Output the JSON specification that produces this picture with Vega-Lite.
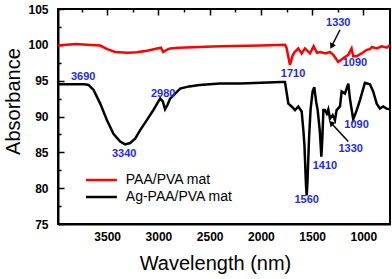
{
  "$schema": "https://vega.github.io/schema/vega-lite/v6.json",
  "width": 332,
  "height": 215,
  "autosize": {"type": "none"},
  "padding": {"left": 58, "top": 9, "right": 2, "bottom": 55},
  "config": {
    "font": "Liberation Sans",
    "view": {"stroke": "black", "strokeWidth": 2}
  },
  "datasets": {
    "spectra": [
      {"wn": 3980, "abs": 99.9, "series": "PAA/PVA mat"},
      {"wn": 3900, "abs": 100.0, "series": "PAA/PVA mat"},
      {"wn": 3800, "abs": 100.1, "series": "PAA/PVA mat"},
      {"wn": 3700, "abs": 100.0, "series": "PAA/PVA mat"},
      {"wn": 3568, "abs": 99.9, "series": "PAA/PVA mat"},
      {"wn": 3500, "abs": 99.4, "series": "PAA/PVA mat"},
      {"wn": 3422, "abs": 99.0, "series": "PAA/PVA mat"},
      {"wn": 3300, "abs": 98.9, "series": "PAA/PVA mat"},
      {"wn": 3208, "abs": 98.95, "series": "PAA/PVA mat"},
      {"wn": 3100, "abs": 99.2, "series": "PAA/PVA mat"},
      {"wn": 3012, "abs": 99.5, "series": "PAA/PVA mat"},
      {"wn": 2975, "abs": 99.6, "series": "PAA/PVA mat"},
      {"wn": 2954, "abs": 99.0, "series": "PAA/PVA mat"},
      {"wn": 2920, "abs": 99.3, "series": "PAA/PVA mat"},
      {"wn": 2886, "abs": 99.5, "series": "PAA/PVA mat"},
      {"wn": 2800, "abs": 99.6, "series": "PAA/PVA mat"},
      {"wn": 2600, "abs": 99.7, "series": "PAA/PVA mat"},
      {"wn": 2400, "abs": 99.8, "series": "PAA/PVA mat"},
      {"wn": 2000, "abs": 99.9, "series": "PAA/PVA mat"},
      {"wn": 1765, "abs": 100.0, "series": "PAA/PVA mat"},
      {"wn": 1750, "abs": 99.6, "series": "PAA/PVA mat"},
      {"wn": 1716, "abs": 97.2, "series": "PAA/PVA mat"},
      {"wn": 1690, "abs": 98.5, "series": "PAA/PVA mat"},
      {"wn": 1670, "abs": 99.0, "series": "PAA/PVA mat"},
      {"wn": 1635, "abs": 99.5, "series": "PAA/PVA mat"},
      {"wn": 1602, "abs": 98.8, "series": "PAA/PVA mat"},
      {"wn": 1570, "abs": 99.5, "series": "PAA/PVA mat"},
      {"wn": 1520, "abs": 98.8, "series": "PAA/PVA mat"},
      {"wn": 1485, "abs": 99.8, "series": "PAA/PVA mat"},
      {"wn": 1453, "abs": 98.9, "series": "PAA/PVA mat"},
      {"wn": 1420, "abs": 99.0, "series": "PAA/PVA mat"},
      {"wn": 1370, "abs": 98.8, "series": "PAA/PVA mat"},
      {"wn": 1326, "abs": 99.0, "series": "PAA/PVA mat"},
      {"wn": 1293, "abs": 98.6, "series": "PAA/PVA mat"},
      {"wn": 1245, "abs": 97.6, "series": "PAA/PVA mat"},
      {"wn": 1180, "abs": 98.3, "series": "PAA/PVA mat"},
      {"wn": 1147, "abs": 98.6, "series": "PAA/PVA mat"},
      {"wn": 1115, "abs": 99.5, "series": "PAA/PVA mat"},
      {"wn": 1099, "abs": 98.4, "series": "PAA/PVA mat"},
      {"wn": 1066, "abs": 98.4, "series": "PAA/PVA mat"},
      {"wn": 1017, "abs": 98.8, "series": "PAA/PVA mat"},
      {"wn": 968, "abs": 99.3, "series": "PAA/PVA mat"},
      {"wn": 936, "abs": 99.4, "series": "PAA/PVA mat"},
      {"wn": 916, "abs": 99.7, "series": "PAA/PVA mat"},
      {"wn": 870, "abs": 99.5, "series": "PAA/PVA mat"},
      {"wn": 820, "abs": 99.8, "series": "PAA/PVA mat"},
      {"wn": 770, "abs": 99.6, "series": "PAA/PVA mat"},
      {"wn": 740, "abs": 100.0, "series": "PAA/PVA mat"},
      {"wn": 3980, "abs": 94.5, "series": "Ag-PAA/PVA mat"},
      {"wn": 3850, "abs": 94.5, "series": "Ag-PAA/PVA mat"},
      {"wn": 3720, "abs": 94.5, "series": "Ag-PAA/PVA mat"},
      {"wn": 3682, "abs": 94.4, "series": "Ag-PAA/PVA mat"},
      {"wn": 3633, "abs": 93.7, "series": "Ag-PAA/PVA mat"},
      {"wn": 3568, "abs": 91.8, "series": "Ag-PAA/PVA mat"},
      {"wn": 3503, "abs": 89.5, "series": "Ag-PAA/PVA mat"},
      {"wn": 3439, "abs": 87.6, "series": "Ag-PAA/PVA mat"},
      {"wn": 3373, "abs": 86.5, "series": "Ag-PAA/PVA mat"},
      {"wn": 3325, "abs": 86.1, "series": "Ag-PAA/PVA mat"},
      {"wn": 3276, "abs": 86.3, "series": "Ag-PAA/PVA mat"},
      {"wn": 3227, "abs": 86.9, "series": "Ag-PAA/PVA mat"},
      {"wn": 3178, "abs": 88.1, "series": "Ag-PAA/PVA mat"},
      {"wn": 3113, "abs": 89.5, "series": "Ag-PAA/PVA mat"},
      {"wn": 3049, "abs": 90.9, "series": "Ag-PAA/PVA mat"},
      {"wn": 3000, "abs": 92.1, "series": "Ag-PAA/PVA mat"},
      {"wn": 2983, "abs": 92.5, "series": "Ag-PAA/PVA mat"},
      {"wn": 2957, "abs": 92.1, "series": "Ag-PAA/PVA mat"},
      {"wn": 2935, "abs": 91.0, "series": "Ag-PAA/PVA mat"},
      {"wn": 2912, "abs": 91.6, "series": "Ag-PAA/PVA mat"},
      {"wn": 2886, "abs": 92.5, "series": "Ag-PAA/PVA mat"},
      {"wn": 2837, "abs": 93.2, "series": "Ag-PAA/PVA mat"},
      {"wn": 2788, "abs": 93.9, "series": "Ag-PAA/PVA mat"},
      {"wn": 2700, "abs": 94.2, "series": "Ag-PAA/PVA mat"},
      {"wn": 2600, "abs": 94.4, "series": "Ag-PAA/PVA mat"},
      {"wn": 2400, "abs": 94.6, "series": "Ag-PAA/PVA mat"},
      {"wn": 2200, "abs": 94.6, "series": "Ag-PAA/PVA mat"},
      {"wn": 2000, "abs": 94.7, "series": "Ag-PAA/PVA mat"},
      {"wn": 1800, "abs": 94.8, "series": "Ag-PAA/PVA mat"},
      {"wn": 1765, "abs": 94.8, "series": "Ag-PAA/PVA mat"},
      {"wn": 1745, "abs": 93.0, "series": "Ag-PAA/PVA mat"},
      {"wn": 1732, "abs": 91.8, "series": "Ag-PAA/PVA mat"},
      {"wn": 1700, "abs": 91.4, "series": "Ag-PAA/PVA mat"},
      {"wn": 1667, "abs": 90.9, "series": "Ag-PAA/PVA mat"},
      {"wn": 1635, "abs": 91.4, "series": "Ag-PAA/PVA mat"},
      {"wn": 1602, "abs": 90.7, "series": "Ag-PAA/PVA mat"},
      {"wn": 1585, "abs": 88.0, "series": "Ag-PAA/PVA mat"},
      {"wn": 1575, "abs": 86.0, "series": "Ag-PAA/PVA mat"},
      {"wn": 1560, "abs": 80.5, "series": "Ag-PAA/PVA mat"},
      {"wn": 1553, "abs": 79.0, "series": "Ag-PAA/PVA mat"},
      {"wn": 1545, "abs": 81.0, "series": "Ag-PAA/PVA mat"},
      {"wn": 1530, "abs": 87.0, "series": "Ag-PAA/PVA mat"},
      {"wn": 1515, "abs": 91.0, "series": "Ag-PAA/PVA mat"},
      {"wn": 1495, "abs": 93.5, "series": "Ag-PAA/PVA mat"},
      {"wn": 1479, "abs": 94.1, "series": "Ag-PAA/PVA mat"},
      {"wn": 1460, "abs": 92.0, "series": "Ag-PAA/PVA mat"},
      {"wn": 1446, "abs": 90.9, "series": "Ag-PAA/PVA mat"},
      {"wn": 1425, "abs": 88.0, "series": "Ag-PAA/PVA mat"},
      {"wn": 1410, "abs": 84.4, "series": "Ag-PAA/PVA mat"},
      {"wn": 1400, "abs": 87.0, "series": "Ag-PAA/PVA mat"},
      {"wn": 1390, "abs": 90.9, "series": "Ag-PAA/PVA mat"},
      {"wn": 1375, "abs": 90.9, "series": "Ag-PAA/PVA mat"},
      {"wn": 1357, "abs": 90.4, "series": "Ag-PAA/PVA mat"},
      {"wn": 1342, "abs": 91.0, "series": "Ag-PAA/PVA mat"},
      {"wn": 1326, "abs": 89.7, "series": "Ag-PAA/PVA mat"},
      {"wn": 1300, "abs": 90.2, "series": "Ag-PAA/PVA mat"},
      {"wn": 1277, "abs": 89.5, "series": "Ag-PAA/PVA mat"},
      {"wn": 1261, "abs": 90.9, "series": "Ag-PAA/PVA mat"},
      {"wn": 1228, "abs": 91.4, "series": "Ag-PAA/PVA mat"},
      {"wn": 1212, "abs": 93.5, "series": "Ag-PAA/PVA mat"},
      {"wn": 1180, "abs": 93.2, "series": "Ag-PAA/PVA mat"},
      {"wn": 1147, "abs": 94.6, "series": "Ag-PAA/PVA mat"},
      {"wn": 1131, "abs": 92.5, "series": "Ag-PAA/PVA mat"},
      {"wn": 1099, "abs": 89.6, "series": "Ag-PAA/PVA mat"},
      {"wn": 1062, "abs": 91.0, "series": "Ag-PAA/PVA mat"},
      {"wn": 1033, "abs": 92.3, "series": "Ag-PAA/PVA mat"},
      {"wn": 985, "abs": 94.7, "series": "Ag-PAA/PVA mat"},
      {"wn": 936, "abs": 94.5, "series": "Ag-PAA/PVA mat"},
      {"wn": 904, "abs": 93.5, "series": "Ag-PAA/PVA mat"},
      {"wn": 870, "abs": 91.8, "series": "Ag-PAA/PVA mat"},
      {"wn": 838, "abs": 91.1, "series": "Ag-PAA/PVA mat"},
      {"wn": 806, "abs": 91.4, "series": "Ag-PAA/PVA mat"},
      {"wn": 773, "abs": 91.1, "series": "Ag-PAA/PVA mat"},
      {"wn": 741, "abs": 91.0, "series": "Ag-PAA/PVA mat"}
    ],
    "peaks": [
      {"wn": 3734, "abs": 95.5, "label": "3690"},
      {"wn": 2954, "abs": 93.1, "label": "2980"},
      {"wn": 3334, "abs": 84.8, "label": "3340"},
      {"wn": 1686, "abs": 96.0, "label": "1710"},
      {"wn": 1245, "abs": 103.0, "label": "1330"},
      {"wn": 1082, "abs": 97.4, "label": "1090"},
      {"wn": 1066, "abs": 88.8, "label": "1090"},
      {"wn": 1124, "abs": 85.4, "label": "1330"},
      {"wn": 1375, "abs": 83.1, "label": "1410"},
      {"wn": 1553, "abs": 78.3, "label": "1560"}
    ]
  },
  "encoding": {
    "x": {
      "field": "wn", "type": "quantitative",
      "scale": {"domain": [3980, 740], "nice": false, "zero": false},
      "axis": {
        "title": "Wavelength (nm)", "titleFontSize": 20, "titleFontWeight": "normal", "titleColor": "black",
        "titleBaseline": "alphabetic", "titleY": 45.5, "titleX": 157,
        "ticks": false, "domainColor": "black", "domainWidth": 2,
        "values": [3750, 3500, 3250, 3000, 2750, 2500, 2250, 2000, 1750, 1500, 1250, 1000],
        "labelExpr": "datum.value % 500 === 0 ? datum.label : ''",
        "format": "d",
        "labelFontSize": 12, "labelFontWeight": "bold", "labelColor": "black", "labelFlush": false, "labelOverlap": false,
        "labelPadding": 7,
        "grid": true, "gridColor": "black", "gridOpacity": 1, "gridWidth": 1.5,
        "gridDash": {"condition": {"test": "datum.value % 500 === 0", "value": [6, 1000]}, "value": [3, 1000]}
      }
    },
    "y": {
      "field": "abs", "type": "quantitative",
      "scale": {"domain": [75, 105], "nice": false, "zero": false},
      "axis": {
        "title": "Absorbance", "titleFontSize": 20, "titleFontWeight": "normal", "titleColor": "black",
        "titleBaseline": "alphabetic", "titleX": -39, "titleY": 92,
        "ticks": false, "domainColor": "black", "domainWidth": 2,
        "values": [75, 77.5, 80, 82.5, 85, 87.5, 90, 92.5, 95, 97.5, 100, 102.5, 105],
        "labelExpr": "datum.value % 5 === 0 ? datum.label : ''",
        "labelFontSize": 12, "labelFontWeight": "bold", "labelColor": "black", "labelFlush": false, "labelOverlap": false,
        "labelPadding": 10,
        "grid": true, "gridColor": "black", "gridOpacity": 1, "gridWidth": 1.5,
        "gridDash": {"condition": {"test": "datum.value % 5 === 0", "value": [6, 1000]}, "value": [3, 1000]}
      }
    }
  },
  "layer": [
    {
      "data": {"name": "spectra"},
      "mark": {"type": "line", "strokeWidth": 2.5},
      "encoding": {
        "color": {
          "field": "series", "type": "nominal",
          "scale": {"domain": ["PAA/PVA mat", "Ag-PAA/PVA mat"], "range": ["#ff0000", "#000000"]},
          "legend": {
            "title": null, "orient": "none", "legendX": 36.4, "legendY": 164,
            "symbolType": "M-5,0H5", "symbolSize": 38.4, "symbolStrokeWidth": 2.5,
            "labelFontSize": 14, "labelColor": "black", "labelOffset": 17.4, "rowPadding": 3,
            "padding": 0
          }
        }
      }
    },
    {
      "data": {"name": "peaks"},
      "mark": {"type": "text", "fontSize": 11, "fontWeight": "bold", "color": "#1f2be8", "align": "center", "baseline": "middle"},
      "encoding": {
        "text": {"field": "label"}
      }
    },
    {
      "data": {"values": [{"wn": 1228, "abs": 102.1, "wn2": 1309, "abs2": 99.8}]},
      "mark": {"type": "rule", "color": "black", "strokeWidth": 1.5},
      "encoding": {
        "x2": {"field": "wn2"},
        "y2": {"field": "abs2"}
      }
    },
    {
      "data": {"values": [{"wn": 1309, "abs": 99.8}]},
      "mark": {"type": "point", "shape": "triangle-up", "angle": 207, "size": 45, "filled": true, "color": "black", "opacity": 1},
      "encoding": {}
    },
    {
      "data": {"values": [{"wn": 1147, "abs": 86.5, "wn2": 1315, "abs2": 89.1}]},
      "mark": {"type": "rule", "color": "black", "strokeWidth": 1.5},
      "encoding": {
        "x2": {"field": "wn2"},
        "y2": {"field": "abs2"}
      }
    },
    {
      "data": {"values": [{"wn": 1315, "abs": 89.1}]},
      "mark": {"type": "point", "shape": "triangle-up", "angle": 317, "size": 45, "filled": true, "color": "black", "opacity": 1},
      "encoding": {}
    }
  ]
}
